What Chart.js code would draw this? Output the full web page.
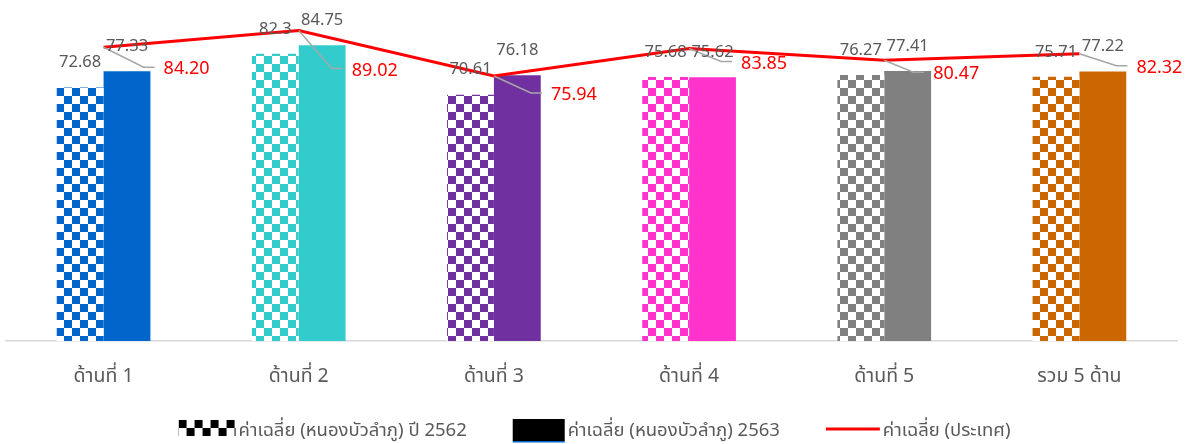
<!DOCTYPE html>
<html><head><meta charset="utf-8">
<script src="https://cdn.jsdelivr.net/npm/chart.js@4.4.0/dist/chart.umd.min.js"></script>
<style>html,body{margin:0;padding:0;background:#fff}</style>
</head><body>
<canvas id="c" width="1193" height="444"></canvas>
<script>
const categories = ['ด้านที่ 1','ด้านที่ 2','ด้านที่ 3','ด้านที่ 4','ด้านที่ 5','รวม 5 ด้าน'];
const seriesNames = ['ค่าเฉลี่ย (หนองบัวลำภู) ปี 2562','ค่าเฉลี่ย (หนองบัวลำภู) 2563','ค่าเฉลี่ย (ประเทศ)'];
const values2562 = [72.68, 82.3, 70.61, 75.68, 76.27, 75.71];
const values2563 = [77.33, 84.75, 76.18, 75.62, 77.41, 77.22];
const valuesNational = [84.20, 89.02, 75.94, 83.85, 80.47, 82.32];

// style settings (not data)
const barColors = ['#0066CC','#33CCCC','#7030A0','#FF33CC','#808080','#CC6600'];
const lineLabelOffsets = [[83,22],[76,40],[80,19],[75,15],[72,14],[80,14]];
const FONT = "'Noto Sans', 'Noto Sans Thai', 'Leelawadee UI', Tahoma, sans-serif";
const GRAY_TEXT = '#595959';

const canvas = document.getElementById('c');
const mainCtx = canvas.getContext('2d');
function checker(color, cell){
  const c = document.createElement('canvas');
  c.width = c.height = cell*2;
  const g = c.getContext('2d');
  g.fillStyle = '#fff'; g.fillRect(0,0,cell*2,cell*2);
  g.fillStyle = color; g.fillRect(0,0,cell,cell); g.fillRect(cell,cell,cell,cell);
  return mainCtx.createPattern(c,'repeat');
}
const patterns = barColors.map(c => checker(c, 8));

const labelPlugin = {
  id: 'valueLabels',
  afterDatasetsDraw(chart){
    const ctx = chart.ctx;
    ctx.save();
    ctx.textAlign = 'center'; ctx.textBaseline = 'middle';
    ctx.font = '18px ' + FONT;
    chart.getDatasetMeta(0).data.forEach((pt,i)=>{
      const txt = valuesNational[i].toFixed(2);
      const [dx,dy] = lineLabelOffsets[i];
      const cx = pt.x+dx, cy = pt.y+dy;
      const left = cx - ctx.measureText(txt).width/2;
      ctx.strokeStyle = '#A6A6A6'; ctx.lineWidth = 1.5;
      ctx.beginPath(); ctx.moveTo(pt.x, pt.y); ctx.lineTo(left-20, cy-2); ctx.lineTo(left-9, cy-2); ctx.stroke();
      ctx.fillStyle = '#FF0000'; ctx.fillText(txt, cx, cy);
    });
    ctx.font = '16.5px ' + FONT;
    ctx.fillStyle = GRAY_TEXT;
    [[1, values2562],[2, values2563]].forEach(([di, vals])=>{
      chart.getDatasetMeta(di).data.forEach((bar,i)=>{
        ctx.fillText(String(vals[i]), bar.x, bar.y - 25);
      });
    });
    ctx.restore();
  }
};

const legendPlugin = {
  id: 'customLegend',
  afterDraw(chart){
    const ctx = chart.ctx;
    ctx.save();
    ctx.font = '18.5px ' + FONT;
    ctx.textBaseline = 'middle'; ctx.textAlign = 'left';
    const iconW = [57, 52, 54], gapIT = 3, gapItem = 46;
    const widths = seriesNames.map((t,i)=> iconW[i] + gapIT + ctx.measureText(t).width);
    const total = widths.reduce((a,b)=>a+b,0) + gapItem*(seriesNames.length-1);
    let x = (chart.width - total)/2 - 2;
    const y = 431;
    seriesNames.forEach((t,i)=>{
      if (i===0){
        const pat = checker('#000000', 8);
        ctx.fillStyle = pat;
        ctx.save(); ctx.translate(x, y-11); ctx.fillRect(0,0,iconW[0],16); ctx.restore();
      } else if (i===1){
        ctx.fillStyle = '#000'; ctx.fillRect(x, y-12, iconW[1], 22);
        ctx.fillStyle = '#0066CC'; ctx.fillRect(x, y+10, iconW[1], 1.5);
      } else {
        ctx.strokeStyle = '#FF0000'; ctx.lineWidth = 3;
        ctx.beginPath(); ctx.moveTo(x, y-2); ctx.lineTo(x+iconW[2], y-2); ctx.stroke();
      }
      ctx.fillStyle = GRAY_TEXT;
      ctx.fillText(t, x + iconW[i] + gapIT, y);
      x += widths[i] + gapItem;
    });
    ctx.restore();
  }
};

new Chart(canvas, {
  data: {
    labels: categories,
    datasets: [
      { type:'line', label: seriesNames[2], data: valuesNational, borderColor:'#FF0000', borderWidth:3,
        pointRadius:0, tension:0, order:0 },
      { type:'bar', label: seriesNames[0], data: values2562, backgroundColor: patterns,
        categoryPercentage:0.48, barPercentage:1.0, order:1 },
      { type:'bar', label: seriesNames[1], data: values2563, backgroundColor: barColors,
        categoryPercentage:0.48, barPercentage:1.0, order:1 }
    ]
  },
  options: {
    responsive:false, animation:false, devicePixelRatio:1,
    layout: { padding: { top:27, left:6, right:16, bottom:43 } },
    plugins: { legend:{display:false}, tooltip:{enabled:false} },
    scales: {
      y: { display:false, min:0, max:90 },
      x: {
        grid:{ display:false },
        border:{ display:true, color:'#D9D9D9', width:1.5 },
        ticks:{ color:GRAY_TEXT, font:{ family:FONT, size:19.5 }, padding:16 },
        afterFit(s){ s.height = 60; }
      }
    }
  },
  plugins:[labelPlugin, legendPlugin]
});
</script>
</body></html>
